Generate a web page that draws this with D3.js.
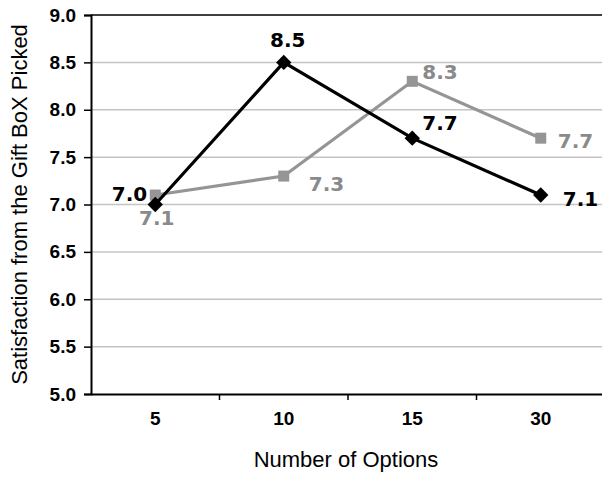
<!DOCTYPE html>
<html>
<head>
<meta charset="utf-8">
<script src="https://cdn.jsdelivr.net/npm/d3@7/dist/d3.min.js"></script>
<style>
  html, body { margin: 0; padding: 0; background: #fff; }
  svg { display: block; }
</style>
</head>
<body>
<svg id="chart" width="602" height="479"></svg>
<script>
// ---- data ----
const categories = ["5", "10", "15", "30"];
const seriesBlack = [7.0, 8.5, 7.7, 7.1];
const seriesGray = [7.1, 7.3, 8.3, 7.7];
const yTicks = [5.0, 5.5, 6.0, 6.5, 7.0, 7.5, 8.0, 8.5, 9.0];
const xTitle = "Number of Options";
const yTitle = "Satisfaction from the Gift BoX Picked";

// ---- layout ----
const W = 602, H = 479;
const plot = { left: 91, top: 15, right: 605, bottom: 394 };
const svg = d3.select("#chart");

const x = d3.scaleBand().domain(categories).range([plot.left, plot.right]);
const y = d3.scaleLinear().domain([5, 9]).range([plot.bottom, plot.top]);
const cx = c => x(c) + x.bandwidth() / 2;

// gridlines
svg.append("g").selectAll("line")
  .data(yTicks.filter(t => t > 5 && t < 9))
  .join("line")
  .attr("x1", plot.left).attr("x2", W)
  .attr("y1", d => y(d)).attr("y2", d => y(d))
  .attr("stroke", "#c4c4c4").attr("stroke-width", 1.5);

// top border
svg.append("line")
  .attr("x1", plot.left).attr("x2", W)
  .attr("y1", y(9)).attr("y2", y(9))
  .attr("stroke", "#000").attr("stroke-width", 1.5);

const tickFont = "'Liberation Sans', Arial, sans-serif";

// y axis
const yAxis = svg.append("g")
  .attr("transform", `translate(${plot.left},0)`)
  .call(d3.axisLeft(y).tickValues(yTicks).tickFormat(d3.format(".1f")).tickSize(7).tickPadding(8));
yAxis.select(".domain").attr("stroke", "#000").attr("stroke-width", 2);
yAxis.selectAll(".tick line").attr("stroke", "#000").attr("stroke-width", 1.5);
yAxis.selectAll("text")
  .attr("font-family", tickFont)
  .attr("font-weight", "bold").attr("font-size", 19).attr("fill", "#000");

// x axis
const xAxis = svg.append("g")
  .attr("transform", `translate(0,${plot.bottom})`)
  .call(d3.axisBottom(x).tickSize(0).tickPadding(17.5));
xAxis.select(".domain").attr("stroke", "#000").attr("stroke-width", 2);
xAxis.selectAll("text")
  .attr("font-family", tickFont)
  .attr("font-weight", "bold").attr("font-size", 19).attr("fill", "#000");
// boundary ticks
xAxis.append("g").selectAll("line")
  .data(categories.slice(1))
  .join("line")
  .attr("x1", d => x(d)).attr("x2", d => x(d))
  .attr("y1", 0).attr("y2", 6)
  .attr("stroke", "#000").attr("stroke-width", 1.5);

// axis titles
svg.append("text")
  .attr("x", (plot.left + plot.right) / 2 - 2).attr("y", 467)
  .attr("text-anchor", "middle")
  .attr("font-family", tickFont)
  .attr("font-size", 22).attr("fill", "#000")
  .text(xTitle);
svg.append("text")
  .attr("transform", `translate(27,${(plot.top + plot.bottom) / 2}) rotate(-90)`)
  .attr("text-anchor", "middle")
  .attr("font-family", tickFont)
  .attr("font-size", 22).attr("fill", "#000")
  .text(yTitle);

// series
const grayColor = "#959595";
const series = [
  { values: seriesGray, color: grayColor, marker: "square",
    labels: [["middle", 1.5, 30], ["start", 25, 15], ["start", 10, -2], ["start", 17, 9.5]] },
  { values: seriesBlack, color: "#000", marker: "diamond",
    labels: [["end", -8, -4], ["middle", 4, -15], ["start", 10, -8], ["start", 22, 11]] }
];

const line = d3.line().x((d, i) => cx(categories[i])).y(d => y(d));

series.forEach(s => {
  const g = svg.append("g");
  g.append("path").datum(s.values)
    .attr("d", line).attr("fill", "none")
    .attr("stroke", s.color).attr("stroke-width", 3.2).attr("stroke-linejoin", "miter");
  const sym = s.marker === "square"
    ? d3.symbol(d3.symbolSquare, 121)
    : d3.symbol(d3.symbolSquare, 118);
  g.selectAll("path.m").data(s.values).join("path")
    .attr("class", "m")
    .attr("d", sym)
    .attr("fill", s.color)
    .attr("transform", (d, i) => `translate(${cx(categories[i])},${y(d)})` + (s.marker === "diamond" ? " rotate(45)" : ""));
});

// data labels (drawn after all lines so they sit on top)
series.forEach(s => {
  svg.append("g").selectAll("text").data(s.values).join("text")
    .attr("x", (d, i) => cx(categories[i]) + s.labels[i][1])
    .attr("y", (d, i) => y(d) + s.labels[i][2])
    .attr("text-anchor", (d, i) => s.labels[i][0])
    .attr("font-family", "'DejaVu Sans', Verdana, sans-serif")
    .attr("font-weight", "bold").attr("font-size", 20)
    .attr("fill", s.color === "#000" ? "#000" : "#8a8a8a")
    .text(d => d3.format(".1f")(d));
});
</script>
</body>
</html>
